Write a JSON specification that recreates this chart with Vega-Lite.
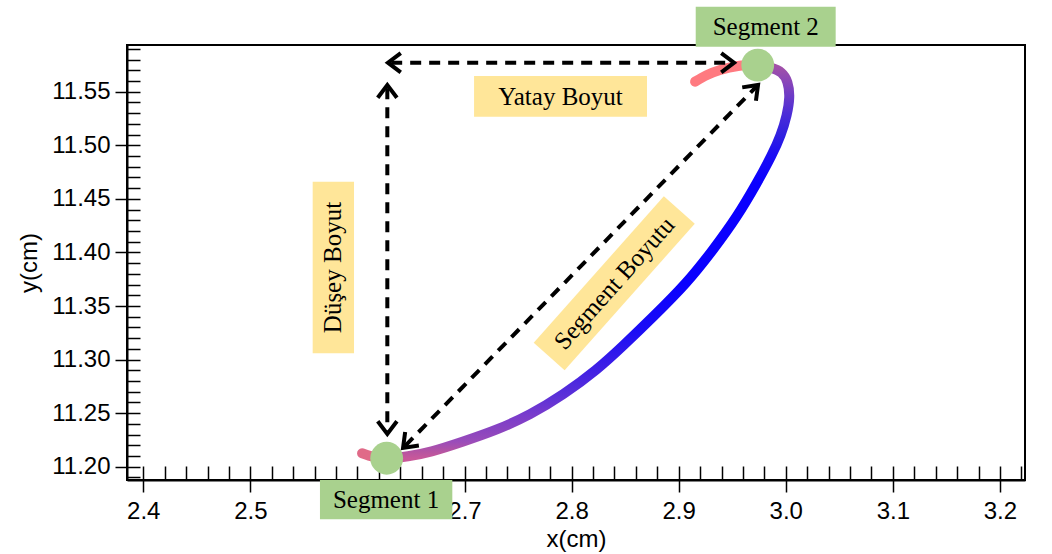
{
  "$schema": "https://vega.github.io/schema/vega-lite/v6.json",
  "width": 898,
  "height": 435,
  "autosize": {"type": "none"},
  "padding": {"left": 127, "top": 45, "right": 27, "bottom": 74},
  "background": "white",
  "config": {
    "view": {"stroke": "black", "strokeWidth": 2},
    "axis": {
      "domainColor": "black", "domainWidth": 2, "tickColor": "black", "tickWidth": 1.5,
      "labelFont": "Liberation Sans", "labelFontSize": 24, "labelColor": "black",
      "titleFont": "Liberation Sans", "titleFontSize": 24, "titleFontWeight": "normal", "titleColor": "black",
      "grid": false, "zindex": 0
    }
  },
  "datasets": {
    "path": [
      {"i": 0, "x": 2.6043, "y": 11.2125, "part": "start"},
      {"i": 1, "x": 2.6155, "y": 11.2091, "part": "start"},
      {"i": 2, "x": 2.6304, "y": 11.2077, "part": "start"},
      {"i": 2, "x": 2.6304, "y": 11.2077, "part": "main"},
      {"i": 3, "x": 2.6463, "y": 11.2094, "part": "main"},
      {"i": 4, "x": 2.6678, "y": 11.2133, "part": "main"},
      {"i": 5, "x": 2.6986, "y": 11.2234, "part": "main"},
      {"i": 6, "x": 2.7303, "y": 11.2343, "part": "main"},
      {"i": 7, "x": 2.7612, "y": 11.2483, "part": "main"},
      {"i": 8, "x": 2.7920, "y": 11.2669, "part": "main"},
      {"i": 9, "x": 2.8237, "y": 11.2903, "part": "main"},
      {"i": 10, "x": 2.8480, "y": 11.3127, "part": "main"},
      {"i": 11, "x": 2.8760, "y": 11.3397, "part": "main"},
      {"i": 12, "x": 2.9078, "y": 11.3715, "part": "main"},
      {"i": 13, "x": 2.9321, "y": 11.4023, "part": "main"},
      {"i": 14, "x": 2.9545, "y": 11.4331, "part": "main"},
      {"i": 15, "x": 2.9731, "y": 11.4648, "part": "main"},
      {"i": 16, "x": 2.9872, "y": 11.4909, "part": "main"},
      {"i": 17, "x": 2.9956, "y": 11.5096, "part": "main"},
      {"i": 18, "x": 3.0012, "y": 11.5283, "part": "main"},
      {"i": 19, "x": 3.0040, "y": 11.5451, "part": "main"},
      {"i": 20, "x": 3.0021, "y": 11.5600, "part": "main"},
      {"i": 21, "x": 2.9965, "y": 11.5684, "part": "main"},
      {"i": 22, "x": 2.9872, "y": 11.5726, "part": "main"},
      {"i": 23, "x": 2.9741, "y": 11.5749, "part": "main"},
      {"i": 23, "x": 2.9741, "y": 11.5749, "part": "tail"},
      {"i": 24, "x": 2.9554, "y": 11.5740, "part": "tail"},
      {"i": 25, "x": 2.9386, "y": 11.5703, "part": "tail"},
      {"i": 26, "x": 2.9265, "y": 11.5656, "part": "tail"},
      {"i": 27, "x": 2.9153, "y": 11.5594, "part": "tail"}
    ],
    "arrows": [
      {"x": 2.6315, "y": 11.5771, "x2": 2.9487, "y2": 11.5771},
      {"x": 2.6279, "y": 11.5533, "x2": 2.6279, "y2": 11.2335},
      {"x": 2.6446, "y": 11.2195, "x2": 2.9721, "y2": 11.5543}
    ],
    "heads": [
      {"x": 2.6285, "y": 11.5771, "a": 180},
      {"x": 2.9517, "y": 11.5771, "a": 0},
      {"x": 2.6279, "y": 11.5563, "a": 270},
      {"x": 2.6279, "y": 11.2305, "a": 90},
      {"x": 2.9741, "y": 11.5563, "a": 314.4},
      {"x": 2.6426, "y": 11.2175, "a": 134.4}
    ],
    "nodes": [
      {"x": 2.6273, "y": 11.2079, "name": "Segment 1"},
      {"x": 2.9738, "y": 11.5749, "name": "Segment 2"}
    ],
    "boxes": [
      {"x": 2.7089, "x2": 2.8704, "y": 11.5267, "y2": 11.5647, "kind": "note"},
      {"x": 2.5582, "x2": 2.5968, "y": 11.3059, "y2": 11.4660, "kind": "note"},
      {"x": 2.5650, "x2": 2.6886, "y": 11.1509, "y2": 11.1876, "kind": "seg"},
      {"x": 2.9159, "x2": 3.0466, "y": 11.5920, "y2": 11.6294, "kind": "seg"}
    ],
    "diagbox": [
      {"x": 2.8398, "y": 11.3712, "a": 311.6}
    ],
    "labels": [
      {"x": 2.7896, "y": 11.5455, "text": "Yatay Boyut", "a": 0},
      {"x": 2.5775, "y": 11.3859, "text": "Düşey Boyut", "a": 270},
      {"x": 2.8398, "y": 11.3712, "text": "Segment Boyutu", "a": 311.6},
      {"x": 2.6267, "y": 11.1692, "text": "Segment 1", "a": 0},
      {"x": 2.9813, "y": 11.6107, "text": "Segment 2", "a": 0}
    ]
  },
  "encoding": {
    "x": {"field": "x", "type": "quantitative", "scale": {"domain": [2.3848, 3.2234], "nice": false, "zero": false}, "axis": null},
    "y": {"field": "y", "type": "quantitative", "scale": {"domain": [11.1876, 11.5936], "nice": false, "zero": false}, "axis": null}
  },
  "resolve": {"axis": {"x": "independent", "y": "independent"}},
  "layer": [
    {
      "data": {"name": "path"},
      "transform": [{"filter": "datum.part == 'main'"}],
      "mark": {"type": "line", "strokeWidth": 10, "strokeCap": "round", "strokeJoin": "round", "interpolate": "basis",
        "color": {"gradient": "linear", "x1": 0, "y1": 1, "x2": 0, "y2": 0, "stops": [
          {"offset": 0, "color": "#c8589a"},
          {"offset": 0.015, "color": "#b855a0"},
          {"offset": 0.043, "color": "#9a4cba"},
          {"offset": 0.072, "color": "#8a44c0"},
          {"offset": 0.11, "color": "#7a3ccc"},
          {"offset": 0.161, "color": "#5a30d8"},
          {"offset": 0.225, "color": "#4020e4"},
          {"offset": 0.327, "color": "#1a0cf6"},
          {"offset": 0.446, "color": "#0a00ff"},
          {"offset": 0.7, "color": "#0a00ff"},
          {"offset": 0.771, "color": "#1a0cf4"},
          {"offset": 0.822, "color": "#3020e0"},
          {"offset": 0.873, "color": "#4a2cd8"},
          {"offset": 0.918, "color": "#6a3ac8"},
          {"offset": 0.959, "color": "#8a46b8"},
          {"offset": 1, "color": "#a452a6"}
        ]}},
      "encoding": {
        "x": {"field": "x", "type": "quantitative", "scale": {"domain": [2.3848, 3.2234], "nice": false, "zero": false},
          "axis": {"orient": "bottom", "title": null, "labels": false, "domain": true, "tickSize": -14,
            "values": [2.4,2.42,2.44,2.46,2.48,2.5,2.52,2.54,2.56,2.58,2.6,2.62,2.64,2.66,2.68,2.7,2.72,2.74,2.76,2.78,2.8,2.82,2.84,2.86,2.88,2.9,2.92,2.94,2.96,2.98,3.0,3.02,3.04,3.06,3.08,3.1,3.12,3.14,3.16,3.18,3.2,3.22]}},
        "y": {"field": "y", "type": "quantitative", "scale": {"domain": [11.1876, 11.5936], "nice": false, "zero": false},
          "axis": {"orient": "left", "title": null, "labels": false, "domain": true, "tickSize": -13,
            "values": [11.19,11.2,11.21,11.22,11.23,11.24,11.25,11.26,11.27,11.28,11.29,11.3,11.31,11.32,11.33,11.34,11.35,11.36,11.37,11.38,11.39,11.4,11.41,11.42,11.43,11.44,11.45,11.46,11.47,11.48,11.49,11.5,11.51,11.52,11.53,11.54,11.55,11.56,11.57,11.58,11.59]}},
        "order": {"field": "i", "type": "quantitative"}
      }
    },
    {
      "data": {"name": "path"},
      "transform": [{"filter": "datum.part == 'start'"}],
      "mark": {"type": "line", "strokeWidth": 10, "strokeCap": "round", "strokeJoin": "round", "interpolate": "catmull-rom", "color": "#e06a88"},
      "encoding": {"order": {"field": "i", "type": "quantitative"}}
    },
    {
      "data": {"name": "path"},
      "transform": [{"filter": "datum.part == 'tail'"}],
      "mark": {"type": "line", "strokeWidth": 10, "strokeCap": "round", "strokeJoin": "round", "interpolate": "catmull-rom", "color": "#ff7a80"},
      "encoding": {"order": {"field": "i", "type": "quantitative"}}
    },
    {
      "data": {"name": "nodes"},
      "mark": {"type": "circle", "size": 1075, "color": "#a9d18e", "opacity": 1},
      "encoding": {
        "x": {"field": "x", "type": "quantitative", "scale": {"domain": [2.3848, 3.2234], "nice": false, "zero": false},
          "axis": {"orient": "bottom", "title": "x(cm)", "domain": false, "tickSize": 12, "labelPadding": 7, "titlePadding": 4,
            "labelExpr": "abs(datum.value - 2.6) < 0.001 ? '' : format(datum.value, '.1f')",
            "values": [2.4,2.5,2.6,2.7,2.8,2.9,3.0,3.1,3.2]}},
        "y": {"field": "y", "type": "quantitative", "scale": {"domain": [11.1876, 11.5936], "nice": false, "zero": false},
          "axis": {"orient": "left", "title": "y(cm)", "domain": false, "tickSize": 12, "labelPadding": 5, "titlePadding": 10, "format": ".2f",
            "values": [11.2,11.25,11.3,11.35,11.4,11.45,11.5,11.55]}}
      }
    },
    {
      "data": {"name": "arrows"},
      "mark": {"type": "rule", "strokeWidth": 4, "strokeDash": [11, 8], "color": "black"},
      "encoding": {"x2": {"field": "x2"}, "y2": {"field": "y2"}}
    },
    {
      "data": {"name": "heads"},
      "mark": {"type": "point", "shape": "M-1.6,-1.2L0,0L-1.6,1.2", "size": 256, "filled": false, "stroke": "black", "strokeWidth": 4, "opacity": 1, "strokeJoin": "miter"},
      "encoding": {"angle": {"field": "a", "type": "quantitative", "scale": null}}
    },
    {
      "data": {"name": "boxes"},
      "mark": {"type": "rect"},
      "encoding": {
        "x2": {"field": "x2"}, "y2": {"field": "y2"},
        "color": {"field": "kind", "type": "nominal", "scale": {"domain": ["note", "seg"], "range": ["#ffe699", "#a9d18e"]}, "legend": null}
      }
    },
    {
      "data": {"name": "diagbox"},
      "mark": {"type": "point", "shape": "M-1,-0.211L1,-0.211L1,0.211L-1,0.211Z", "size": 38416, "filled": true, "color": "#ffe699", "opacity": 1, "strokeWidth": 0},
      "encoding": {"angle": {"field": "a", "type": "quantitative", "scale": null}}
    },
    {
      "data": {"name": "labels"},
      "mark": {"type": "text", "font": "Liberation Serif", "fontSize": 25, "color": "black", "align": "center", "baseline": "middle"},
      "encoding": {
        "text": {"field": "text", "type": "nominal"},
        "angle": {"field": "a", "type": "quantitative", "scale": null}
      }
    }
  ]
}
